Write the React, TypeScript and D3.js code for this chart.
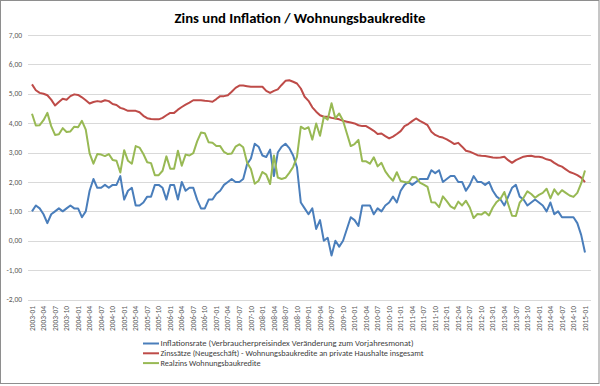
import React from "react";
import { scaleLinear, scalePoint, line, range } from "d3";

// monthly categories 2003-01 .. 2015-01
const years = range(2003, 2016);
const months = years.flatMap(y => range(1, 13).map(m => `${y}-${String(m).padStart(2, "0")}`)).slice(0, 145);

// Inflationsrate (VPI, Veränderung zum Vorjahresmonat)
const inflation = [
  1.0, 1.2, 1.1, 0.9, 0.6, 0.9, 1.0, 1.1, 1.0, 1.1, 1.2, 1.1,
  1.1, 0.8, 1.0, 1.7, 2.1, 1.8, 1.8, 1.9, 1.8, 1.9, 1.9, 2.2,
  1.4, 1.7, 1.8, 1.2, 1.2, 1.3, 1.5, 1.5, 1.9, 1.9, 1.8, 1.4,
  1.9, 1.9, 1.4, 2.0, 1.7, 1.8, 1.8, 1.4, 1.1, 1.1, 1.4, 1.4,
  1.6, 1.7, 1.9, 2.0, 2.1, 2.0, 2.0, 2.1, 2.6, 2.8, 3.3, 3.2,
  2.9, 2.85, 3.1, 2.2, 3.0, 3.2, 3.3, 3.15, 2.9, 2.5, 1.3, 1.1,
  0.9, 1.1, 0.4, 0.7, 0.0, 0.1, -0.5, 0.0, -0.2, 0.0, 0.4, 0.8,
  0.7, 0.5, 1.2, 1.2, 1.2, 0.9, 1.1, 1.0, 1.2, 1.3, 1.5, 1.3,
  1.7, 1.9, 2.0, 1.9, 2.0, 2.1, 2.1, 2.1, 2.4, 2.3, 2.4, 2.0,
  2.1, 2.2, 2.2, 2.0, 2.0, 1.7, 1.9, 2.2, 2.0, 2.0, 1.9, 2.0,
  1.7, 1.5, 1.4, 1.2, 1.5, 1.8, 1.9, 1.5, 1.4, 1.2, 1.3, 1.4,
  1.3, 1.2, 1.0, 1.3, 0.9, 1.0, 0.8, 0.8, 0.8, 0.8, 0.6, 0.2,
  -0.4,
];

// Zinssätze (Neugeschäft) - Wohnungsbaukredite
const zins = [
  5.32, 5.12, 5.03, 5.0, 4.95, 4.8, 4.6, 4.72, 4.83, 4.8, 4.92, 4.98,
  4.96, 4.88, 4.78, 4.67, 4.72, 4.75, 4.73, 4.78, 4.75, 4.65, 4.62, 4.52,
  4.48, 4.42, 4.42, 4.42, 4.37, 4.25, 4.17, 4.14, 4.13, 4.13, 4.18, 4.27,
  4.35, 4.35, 4.46, 4.55, 4.63, 4.7, 4.78, 4.78, 4.78, 4.76, 4.75, 4.73,
  4.82, 4.92, 4.92, 4.95, 5.07, 5.2, 5.28, 5.28, 5.26, 5.24, 5.24, 5.24,
  5.24, 5.1, 5.03, 5.1, 5.15, 5.3, 5.44, 5.46, 5.41, 5.35, 5.18, 4.9,
  4.76, 4.54, 4.39, 4.27, 4.22, 4.22, 4.18, 4.16, 4.13, 4.08, 4.05, 4.02,
  3.99, 3.93, 3.9, 3.9, 3.82, 3.74, 3.63, 3.65, 3.56, 3.48, 3.54, 3.63,
  3.73, 3.9, 3.97, 4.07, 4.16, 4.08, 4.01, 3.93, 3.71, 3.6, 3.54, 3.51,
  3.45, 3.37, 3.29, 3.33, 3.2, 3.06, 3.03, 2.97, 2.91, 2.89, 2.88, 2.86,
  2.83, 2.82, 2.83, 2.86, 2.74, 2.65, 2.74, 2.8, 2.86, 2.88, 2.89, 2.86,
  2.86, 2.83, 2.77, 2.74, 2.65, 2.57, 2.52, 2.43, 2.34, 2.29, 2.23, 2.15,
  1.99,
];

// Realzins Wohnungsbaukredite
const realzins = [
  4.32, 3.92, 3.93, 4.1, 4.35, 3.9, 3.6, 3.62, 3.83, 3.7, 3.72, 3.88,
  3.86, 4.08, 3.78, 2.97, 2.62, 2.95, 2.93, 2.88, 2.95, 2.75, 2.72, 2.32,
  3.08, 2.72, 2.62, 3.22, 3.17, 2.95, 2.67, 2.64, 2.23, 2.23, 2.38, 2.87,
  2.45, 2.45, 3.06, 2.55, 2.93, 2.9, 2.98, 3.38, 3.68, 3.66, 3.35, 3.33,
  3.22, 3.22, 3.02, 2.95, 2.97, 3.2, 3.28, 3.18, 2.66, 2.44, 1.94, 2.04,
  2.34, 2.25, 1.93, 2.9, 2.15, 2.1, 2.14, 2.31, 2.51, 2.85, 3.88, 3.8,
  3.86, 3.44, 3.99, 3.57, 4.22, 4.12, 4.68, 4.16, 4.33, 4.08, 3.65, 3.22,
  3.29, 3.43, 2.7, 2.7, 2.62, 2.84, 2.53, 2.65, 2.36, 2.18, 2.04, 2.33,
  2.03, 2.0, 1.97, 2.17, 2.16, 1.98, 1.91, 1.83, 1.31, 1.3, 1.14, 1.51,
  1.35, 1.17, 1.09, 1.33, 1.2, 1.36, 1.13, 0.77, 0.91, 0.89, 0.98, 0.86,
  1.13, 1.32, 1.43, 1.66, 1.24, 0.85, 0.84, 1.3, 1.46, 1.68, 1.59, 1.46,
  1.56, 1.63, 1.77, 1.44, 1.75, 1.57, 1.72, 1.63, 1.54, 1.49, 1.63, 1.95,
  2.39,
];

const yTicks = [-2, -1, 0, 1, 2, 3, 4, 5, 6, 7];

const series = [
  { name: "Inflationsrate (Verbraucherpreisindex Veränderung zum Vorjahresmonat)", values: inflation, color: "#4a7ebb", legendWidth: 253 },
  { name: "Zinssätze (Neugeschäft) - Wohnungsbaukredite an private Haushalte insgesamt", values: zins, color: "#be4b48", legendWidth: 263 },
  { name: "Realzins Wohnungsbaukredite", values: realzins, color: "#98b954", legendWidth: 100 },
];

const W = 600, H = 386;
const font = "Calibri, Carlito, 'Liberation Sans', Arial, sans-serif";

export default function App() {
  const x = scalePoint<string>().domain(months).range([32, 585]);
  const y = scaleLinear().domain([-2, 7]).range([299.5, 35]);
  const gridX0 = 28, gridX1 = 591;

  const path = (vals: number[]) =>
    line<number>()
      .x((_, i) => x(months[i]) as number)
      .y(d => y(d))(vals) || "";

  const fmt = (v: number) => v.toFixed(2).replace(".", ",");

  return (
    <svg width={W} height={H} style={{ position: "fixed", left: 0, top: 0, display: "block", background: "#fff" }} fontFamily={font}>
      <rect x={0.5} y={0.5} width={598.5} height={383} fill="#fff" stroke="#8e8e8e" strokeWidth={1} />
      <text x={300} y={23} textAnchor="middle" fontSize={13} fontWeight="bold" fill="#000" textLength={251} lengthAdjust="spacingAndGlyphs">
        Zins und Inflation / Wohnungsbaukredite
      </text>

      {yTicks.map(t => (
        <g key={t}>
          <line x1={gridX0} x2={gridX1} y1={Math.round(y(t)) + 0.5} y2={Math.round(y(t)) + 0.5} stroke="#d9d9d9" strokeWidth={1} />
          <text x={22} y={y(t)} dy="0.35em" textAnchor="end" fontSize={7.5} fill="#595959">{fmt(t)}</text>
        </g>
      ))}

      {months.map((m, i) => i % 3 === 0 && (
        <text key={m} transform={`translate(${x(m)},306) rotate(-90)`} dy="0.35em" textAnchor="end" fontSize={7.5} fill="#595959">{m}</text>
      ))}

      {series.map(s => (
        <path key={s.name} d={path(s.values)} fill="none" stroke={s.color} strokeWidth={2} strokeLinejoin="round" />
      ))}

      {series.map((s, i) => (
        <g key={"lg" + i} transform={`translate(143,${343.5 + i * 9.8})`}>
          <line x1={0} x2={16} y1={0} y2={0} stroke={s.color} strokeWidth={2} />
          <text x={17.5} y={0} dy="0.35em" fontSize={8.5} fill="#404040" textLength={s.legendWidth} lengthAdjust="spacingAndGlyphs">{s.name}</text>
        </g>
      ))}
    </svg>
  );
}
